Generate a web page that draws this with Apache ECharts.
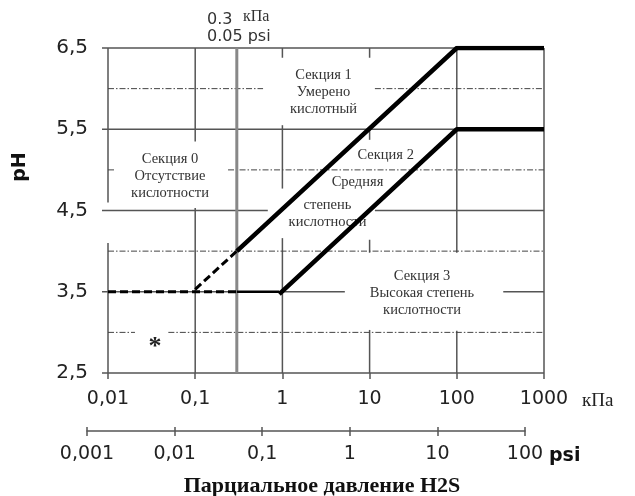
<!DOCTYPE html>
<html>
<head>
<meta charset="utf-8">
<script src="https://cdn.jsdelivr.net/npm/echarts@6/dist/echarts.min.js"></script>
<style>
  html, body { margin: 0; padding: 0; background: #fff; }
  #chart { width: 635px; height: 496px; }
</style>
</head>
<body>
<div id="chart"></div>
<script>
// Tick labels
const kpaTickLabels = ['0,01', '0,1', '1', '10', '100', '1000'];
const psiTickLabels = ['0,001', '0,01', '0,1', '1', '10', '100'];
const phTickLabels = ['2,5', '3,5', '4,5', '5,5', '6,5'];

// Region boundaries: [H2S partial pressure, kPa ; pH]
const upperBoundary = [[0.3, 4.0], [100, 6.5], [1000, 6.5]];
const upperBoundaryDashed = [[0.1, 3.53], [0.3, 4.0]];
const lowerBoundaryDashed = [[0.01, 3.5], [0.3, 3.5]];
const lowerBoundaryFlat = [[0.3, 3.5], [0.92, 3.5]];
const lowerBoundary = [[0.92, 3.47], [100, 5.5], [1000, 5.5]];

// Grid lines (interrupted around the region captions)
// vertical: [kPa, [[pH from, pH to], ...]]
const gridVertical = [
  [0.01, [[2.5, 4.1], [4.6, 6.5]]],
  [0.1, [[2.5, 4.53], [5.35, 6.5]]],
  [1, [[2.5, 4.16], [4.77, 5.55], [6.38, 6.5]]],
  [10, [[2.5, 3.03], [3.98, 4.14], [5.37, 5.5], [6.38, 6.5]]],
  [100, [[2.5, 3.02], [3.98, 6.5]]],
  [1000, [[2.5, 6.5]]]
];
// solid horizontal: [pH, [[kPa from, kPa to], ...]]
const gridHorizontal = [
  [6.5, [[0.01, 1000]]],
  [5.5, [[0.01, 1000]]],
  [4.5, [[0.01, 0.68], [11.5, 1000]]],
  [3.5, [[0.01, 5.2], [341, 1000]]],
  [2.5, [[0.01, 1000]]]
];
// dash-dot horizontal
const gridHalfSteps = [
  [6.0, [[0.01, 0.6], [11.5, 1000]]],
  [5.0, [[0.01, 0.012], [0.238, 1000]]],
  [4.0, [[0.01, 1000]]],
  [3.0, [[0.01, 0.0204], [0.0492, 1000]]]
];
// marked pressure threshold 0.3 kPa (0.05 psi)
const thresholdKpa = 0.3;

function vSegs(list) {
  const out = [];
  list.forEach(([x, ranges]) => ranges.forEach(([a, b]) => out.push([x, a, x, b, 0])));
  return out;
}
function hSegs(list, tick) {
  const out = [];
  list.forEach(([y, ranges]) => ranges.forEach(([a, b]) => out.push([a, y, b, y, tick && a === 0.01 ? 1 : 0])));
  return out;
}

function segmentSeries(name, data, style, z) {
  return {
    name: name,
    type: 'custom',
    coordinateSystem: 'cartesian2d',
    xAxisIndex: 0,
    yAxisIndex: 0,
    silent: true,
    clip: false,
    z: z,
    encode: { x: [0, 2], y: [1, 3] },
    data: data,
    renderItem: function (params, api) {
      const a = api.coord([api.value(0), api.value(1)]);
      const b = api.coord([api.value(2), api.value(3)]);
      const ext = api.value(4) ? 6 : 0;
      return {
        type: 'line',
        shape: { x1: a[0] - ext, y1: a[1], x2: b[0], y2: b[1] },
        style: Object.assign({ fill: null }, style)
      };
    }
  };
}

const serif = "'Liberation Serif', 'Times New Roman', serif";
const sans = "'DejaVu Sans', sans-serif";
const captionColor = '#333';

const chart = echarts.init(document.getElementById('chart'), null, { renderer: 'canvas' });

function boundary(data, width, dash) {
  return {
    type: 'line',
    xAxisIndex: 0,
    yAxisIndex: 0,
    data: data,
    symbol: 'none',
    silent: true,
    z: 5,
    lineStyle: { color: '#000', width: width, type: dash || 'solid', cap: 'butt' }
  };
}

function caption(x, y, text, size) {
  return {
    type: 'text', x: x, y: y, z: 3,
    style: {
      text: text, font: (size || 14.5) + 'px ' + serif, lineHeight: 17, fill: captionColor,
      align: 'center', textAlign: 'center', verticalAlign: 'middle', textVerticalAlign: 'middle'
    }
  };
}

chart.setOption({
  animation: false,
  backgroundColor: '#fff',
  grid: [
    { left: 108, top: 48, width: 436, height: 325 },
    { left: 87, top: 427, width: 438, height: 4 }
  ],
  xAxis: [
    {
      type: 'log', logBase: 10, min: 0.01, max: 1000, gridIndex: 0,
      axisLine: { show: false },
      axisTick: { show: true, length: 6, lineStyle: { color: '#555', width: 1.5 } },
      splitLine: { show: false },
      minorTick: { show: false },
      axisLabel: {
        margin: 17, color: '#222', fontFamily: sans, fontSize: 19,
        formatter: v => kpaTickLabels[Math.round(Math.log10(v)) + 2]
      }
    },
    {
      type: 'log', logBase: 10, min: 0.001, max: 100, gridIndex: 1,
      axisLine: { show: true, lineStyle: { color: '#555', width: 1.5 } },
      axisTick: { show: true, length: 5, lineStyle: { color: '#555', width: 1.5 } },
      splitLine: { show: true, lineStyle: { color: '#555', width: 1.5 } },
      axisLabel: {
        margin: 14, color: '#222', fontFamily: sans, fontSize: 19,
        formatter: v => psiTickLabels[Math.round(Math.log10(v)) + 3]
      }
    }
  ],
  yAxis: [
    {
      type: 'value', min: 2.5, max: 6.5, interval: 0.5, gridIndex: 0,
      axisLine: { show: false }, axisTick: { show: false }, splitLine: { show: false },
      axisLabel: {
        margin: 20, color: '#222', fontFamily: sans, fontSize: 20,
        formatter: (v, i) => (Math.abs((v - 2.5) % 1) < 1e-6 ? phTickLabels[Math.round(v - 2.5)] : '')
      }
    },
    { type: 'value', min: 0, max: 1, gridIndex: 1, show: false }
  ],
  series: [
    segmentSeries('grid', vSegs(gridVertical).concat(hSegs(gridHorizontal, true)),
      { stroke: '#555', lineWidth: 1.5 }, 1),
    segmentSeries('halfSteps', hSegs(gridHalfSteps, false),
      { stroke: '#444', lineWidth: 1, lineDash: [6, 2, 1.5, 2] }, 1),
    segmentSeries('threshold', [[thresholdKpa, 2.5, thresholdKpa, 6.5, 0]],
      { stroke: '#888', lineWidth: 3 }, 2),
    boundary(lowerBoundaryDashed, 3, [8, 4]),
    boundary(upperBoundaryDashed, 3, [8, 4]),
    boundary(lowerBoundaryFlat, 2.5),
    boundary(lowerBoundary, 4.5),
    boundary(upperBoundary, 4.5)
  ],
  graphic: [
    { type: 'text', x: 207, y: 20, style: { text: '0.3', font: '16px ' + sans, fill: '#333', verticalAlign: 'middle', textVerticalAlign: 'middle' } },
    { type: 'text', x: 243, y: 17, style: { text: 'кПа', font: '16px ' + serif, fill: '#333', verticalAlign: 'middle', textVerticalAlign: 'middle' } },
    { type: 'text', x: 207, y: 37, style: { text: '0.05 psi', font: '16px ' + sans, fill: '#333', verticalAlign: 'middle', textVerticalAlign: 'middle' } },
    { type: 'text', x: 20.5, y: 167, rotation: Math.PI / 2, style: { text: 'pH', font: 'bold 19px ' + sans, fill: '#111', align: 'center', textAlign: 'center', verticalAlign: 'middle', textVerticalAlign: 'middle' } },
    { type: 'text', x: 582, y: 401, style: { text: 'кПа', font: '19px ' + serif, fill: '#222', verticalAlign: 'middle', textVerticalAlign: 'middle' } },
    { type: 'text', x: 549, y: 456, style: { text: 'psi', font: 'bold 19px ' + sans, fill: '#111', verticalAlign: 'middle', textVerticalAlign: 'middle' } },
    { type: 'text', x: 322, y: 486, style: { text: 'Парциальное давление H2S', font: 'bold 22px ' + serif, fill: '#111', align: 'center', textAlign: 'center', verticalAlign: 'middle', textVerticalAlign: 'middle' } },
    caption(170, 176, 'Секция 0\nОтсутствие\nкислотности'),
    caption(323.5, 92, 'Секция 1\nУмерено\nкислотный'),
    caption(385.7, 155, 'Секция 2'),
    caption(357.5, 181.7, 'Средняя'),
    caption(327.5, 213.3, 'степень\nкислотности'),
    caption(422, 293.3, 'Секция 3\nВысокая степень\nкислотности'),
    { type: 'text', x: 155, y: 347, z: 3, style: { text: '*', font: 'bold 26px ' + serif, fill: '#222', align: 'center', textAlign: 'center', verticalAlign: 'middle', textVerticalAlign: 'middle' } }
  ]
});
</script>
</body>
</html>
